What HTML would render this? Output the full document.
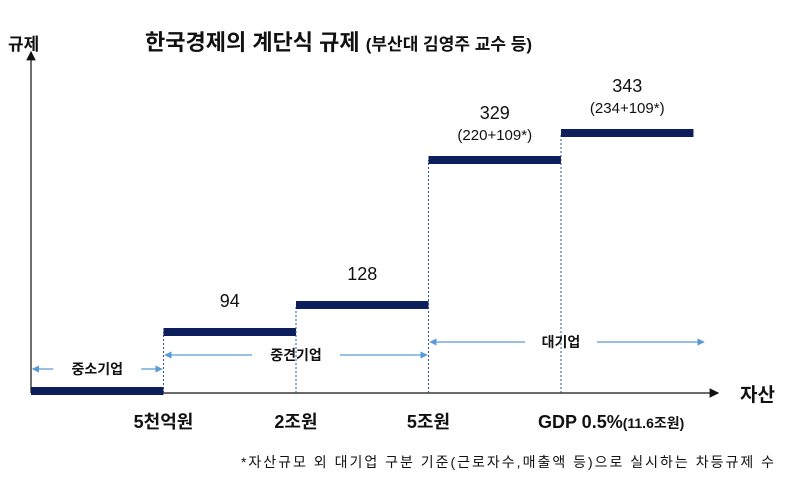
<!DOCTYPE html>
<html><head><meta charset="utf-8"><style>
body{margin:0;background:#fff;width:800px;height:476px;overflow:hidden;font-family:"Liberation Sans","Noto Sans CJK KR",sans-serif}
svg text{font-family:"Liberation Sans","Noto Sans CJK KR",sans-serif;fill:#111}
</style></head><body>
<svg id="chart" width="800" height="476" viewBox="0 0 800 476">
<defs>
<marker id="ah" markerWidth="8" markerHeight="8" refX="7" refY="4" orient="auto"><path d="M0,0 L8,4 L0,8 z" fill="#111"/></marker>
<marker id="bh" markerWidth="6" markerHeight="6" refX="5" refY="3" orient="auto"><path d="M0,0 L6,3 L0,6 z" fill="#5b9bd5"/></marker>
</defs>
<text x="145" y="50" font-size="22" font-weight="bold">한국경제의 계단식 규제 <tspan font-size="17">(부산대 김영주 교수 등)</tspan></text>
<text x="8" y="50" font-size="17" font-weight="bold">규제</text>
<text x="740" y="401" font-size="19" font-weight="bold">자산</text>
<line x1="31" y1="393" x2="31" y2="52" stroke="#111" stroke-width="1.2" marker-end="url(#ah)"/>
<line x1="31" y1="393" x2="718" y2="393" stroke="#111" stroke-width="1.2" marker-end="url(#ah)"/>
<g id="marks"></g>
<text x="776" y="467" font-size="14" text-anchor="end" letter-spacing="2">*자산규모 외 대기업 구분 기준(근로자수,매출액 등)으로 실시하는 차등규제 수</text>
</svg>
<script>
const categories=["중소기업","중견기업1","중견기업2","대기업1","대기업2"];
const values=[0,94,128,329,343];
const valueNotes=["","","","(220+109*)","(234+109*)"];
const tickLabels=["5천억원","2조원","5조원","GDP 0.5%"];
const tickSub=["","","","(11.6조원)"];
const groups=["중소기업","중견기업","대기업"];
const groupSpans=[[0,1],[1,3],[3,5]];
const NS="http://www.w3.org/2000/svg";
const g=document.getElementById('marks');
const x0=31,step=132.5;
function xs(i){return x0+i*step;}
const dom=[0,94,128,329,343],rng=[391,332,305,160,133];
function ys(v){for(let i=1;i<dom.length;i++){if(v<=dom[i]||i==dom.length-1){const t=(v-dom[i-1])/(dom[i]-dom[i-1]);return rng[i-1]+t*(rng[i]-rng[i-1]);}}return rng[0];}
function el(t,a){const e=document.createElementNS(NS,t);for(const k in a)e.setAttribute(k,a[k]);g.appendChild(e);return e;}
values.forEach((v,i)=>{
 if(i>0){const d=el('line',{x1:xs(i),x2:xs(i),y1:393,y2:ys(v),stroke:'#2f4f8f','stroke-width':1,'stroke-dasharray':'2,2'});
 
 }
 const r=el('rect',{x:xs(i),y:ys(v)-4,width:step,height:8,fill:'#0c1f5c'});
 
 
 if(v>0){const t=el('text',{x:xs(i)+step/2,y:ys(v)-(valueNotes[i]?41:25),'font-size':18,'text-anchor':'middle'});t.textContent=v;
 
 }
 if(valueNotes[i]){const t=el('text',{x:xs(i)+step/2,y:ys(v)-20,'font-size':15,'text-anchor':'middle'});t.textContent=valueNotes[i];
 
 }
});
tickLabels.forEach((l,i)=>{const sub=!!tickSub[i];const t=el('text',{x:sub?xs(i+1)-23:xs(i+1),y:428,'font-size':18,'font-weight':'bold','text-anchor':sub?'start':'middle'});t.textContent=l;
 if(sub){const s=document.createElementNS(NS,'tspan');s.setAttribute('font-size','14');s.textContent=tickSub[i];t.appendChild(s);}
 
 });
const gy=[373,359,346];
groups.forEach((n,i)=>{const a=xs(groupSpans[i][0])+2,b=xs(groupSpans[i][1])-2,c=(a+b)/2,y=gy[i];
 const hw=n.length*8+12;
 const b1=el('line',{x1:c-hw,y1:y-4,x2:a,y2:y-4,stroke:'#5b9bd5','stroke-width':1.2,'marker-end':'url(#bh)'});
 
 
 const b2=el('line',{x1:c+hw,y1:y-4,x2:i==2?b+12:b,y2:y-4,stroke:'#5b9bd5','stroke-width':1.2,'marker-end':'url(#bh)'});
 
 
 const t=el('text',{x:c,y:y+1,'font-size':14,'font-weight':'bold','text-anchor':'middle'});t.textContent=n;
 
 });
</script>
</body></html>
